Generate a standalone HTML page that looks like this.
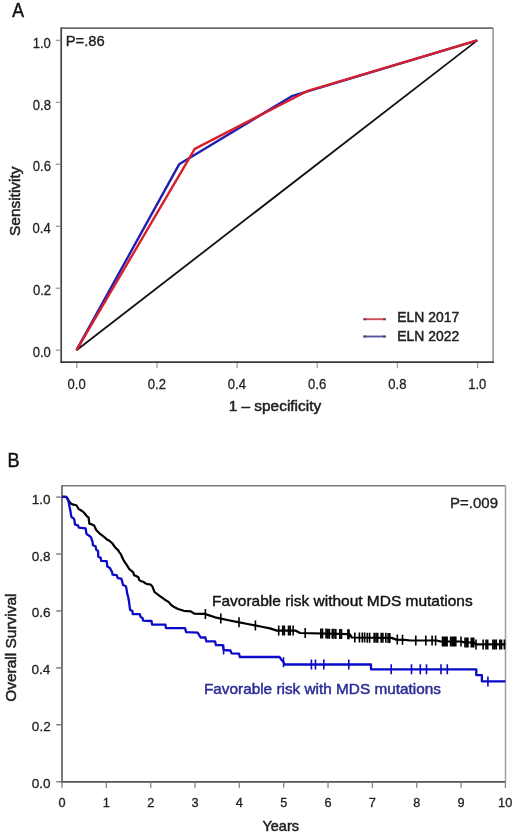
<!DOCTYPE html>
<html><head><meta charset="utf-8"><style>
html,body{margin:0;padding:0;background:#fff;}
svg{display:block;will-change:transform;}
text{font-family:"Liberation Sans",sans-serif;}
</style></head><body>
<svg width="520" height="835" viewBox="0 0 520 835">
<rect width="520" height="835" fill="#fff"/>
<g>
<text transform="translate(32.73,357.35) scale(0.8400,1)" font-size="15.56" fill="#222" stroke="#222" stroke-width="0.3">0.0</text>
<text transform="translate(67.60,389.25) scale(0.8400,1)" font-size="15.56" fill="#222" stroke="#222" stroke-width="0.3">0.0</text>
<text transform="translate(32.89,295.39) scale(0.8400,1)" font-size="15.56" fill="#222" stroke="#222" stroke-width="0.3">0.2</text>
<text transform="translate(147.84,389.25) scale(0.8400,1)" font-size="15.56" fill="#222" stroke="#222" stroke-width="0.3">0.2</text>
<text transform="translate(32.60,233.43) scale(0.8400,1)" font-size="15.56" fill="#222" stroke="#222" stroke-width="0.3">0.4</text>
<text transform="translate(227.86,389.25) scale(0.8400,1)" font-size="15.56" fill="#222" stroke="#222" stroke-width="0.3">0.4</text>
<text transform="translate(32.79,171.47) scale(0.8400,1)" font-size="15.56" fill="#222" stroke="#222" stroke-width="0.3">0.6</text>
<text transform="translate(308.11,389.25) scale(0.8400,1)" font-size="15.56" fill="#222" stroke="#222" stroke-width="0.3">0.6</text>
<text transform="translate(32.79,109.51) scale(0.8400,1)" font-size="15.56" fill="#222" stroke="#222" stroke-width="0.3">0.8</text>
<text transform="translate(388.27,389.25) scale(0.8400,1)" font-size="15.56" fill="#222" stroke="#222" stroke-width="0.3">0.8</text>
<text transform="translate(32.73,47.55) scale(0.8400,1)" font-size="15.56" fill="#222" stroke="#222" stroke-width="0.3">1.0</text>
<text transform="translate(468.17,389.25) scale(0.8400,1)" font-size="15.56" fill="#222" stroke="#222" stroke-width="0.3">1.0</text>
<line x1="61.2" y1="28.1" x2="493.1" y2="28.1" stroke="#6c6c6c" stroke-width="1.6"/>
<line x1="493.1" y1="28.1" x2="493.1" y2="362.1" stroke="#9a9a9a" stroke-width="1.6"/>
<line x1="61.2" y1="27.3" x2="61.2" y2="362.9" stroke="#444" stroke-width="1.7"/>
<line x1="60.4" y1="362.1" x2="493.9" y2="362.1" stroke="#3a3a3a" stroke-width="1.7"/>
<line x1="55.8" y1="350.20" x2="60.5" y2="350.20" stroke="#a0a0a0" stroke-width="1.4"/>
<line x1="76.80" y1="363" x2="76.80" y2="368.3" stroke="#a8a8a8" stroke-width="1.4"/>
<line x1="55.8" y1="288.24" x2="60.5" y2="288.24" stroke="#a0a0a0" stroke-width="1.4"/>
<line x1="156.96" y1="363" x2="156.96" y2="368.3" stroke="#a8a8a8" stroke-width="1.4"/>
<line x1="55.8" y1="226.28" x2="60.5" y2="226.28" stroke="#a0a0a0" stroke-width="1.4"/>
<line x1="237.12" y1="363" x2="237.12" y2="368.3" stroke="#a8a8a8" stroke-width="1.4"/>
<line x1="55.8" y1="164.32" x2="60.5" y2="164.32" stroke="#a0a0a0" stroke-width="1.4"/>
<line x1="317.28" y1="363" x2="317.28" y2="368.3" stroke="#a8a8a8" stroke-width="1.4"/>
<line x1="55.8" y1="102.36" x2="60.5" y2="102.36" stroke="#a0a0a0" stroke-width="1.4"/>
<line x1="397.44" y1="363" x2="397.44" y2="368.3" stroke="#a8a8a8" stroke-width="1.4"/>
<line x1="55.8" y1="40.40" x2="60.5" y2="40.40" stroke="#a0a0a0" stroke-width="1.4"/>
<line x1="477.60" y1="363" x2="477.60" y2="368.3" stroke="#a8a8a8" stroke-width="1.4"/>
<line x1="76.50" y1="350.20" x2="477.30" y2="40.40" stroke="#111" stroke-width="1.8"/>
<polyline points="76.50,350.20 179.10,164.32 291.73,96.16 477.30,40.40" fill="none" stroke="#1e1eb4" stroke-width="2.4" stroke-linejoin="round"/>
<polyline points="76.50,350.20 194.74,148.83 306.96,91.21 477.30,40.40" fill="none" stroke="#d8202a" stroke-width="2.4" stroke-linejoin="round"/>
<line x1="363.5" y1="319.2" x2="385.8" y2="319.2" stroke="#d44a55" stroke-width="1.9"/>
<line x1="363.5" y1="336.5" x2="385.8" y2="336.5" stroke="#5555a8" stroke-width="1.9"/>
<path d="M363.3 319.2h3M383 319.2h2.8M363.3 336.5h3M383 336.5h2.8" stroke="#553a44" stroke-width="1.9" opacity="0.8"/>
<text transform="translate(12.26,16.80) scale(0.9061,1)" font-size="19.49" fill="#111" stroke="#111" stroke-width="0.5">A</text>
<text transform="translate(65.78,46.30) scale(1.0041,1)" font-size="14.69" fill="#222" stroke="#222" stroke-width="0.35">P=.86</text>
<text transform="translate(397.35,322.20) scale(0.9755,1)" font-size="14.25" fill="#222" stroke="#222" stroke-width="0.5">ELN 2017</text>
<text transform="translate(397.35,341.40) scale(0.9755,1)" font-size="14.25" fill="#222" stroke="#222" stroke-width="0.5">ELN 2022</text>
<text transform="translate(228.64,410.80) scale(1.0346,1)" font-size="14.91" fill="#222" stroke="#222" stroke-width="0.5">1 – specificity</text>
<text transform="translate(19.60,235.99) rotate(-90) scale(1.0409,1)" font-size="14.84" fill="#222" stroke="#222" stroke-width="0.5">Sensitivity</text>
<text transform="translate(31.68,788.25) scale(1.0000,1)" font-size="13.55" fill="#222" stroke="#222" stroke-width="0.3">0.0</text>
<text transform="translate(31.85,731.33) scale(1.0000,1)" font-size="13.55" fill="#222" stroke="#222" stroke-width="0.3">0.2</text>
<text transform="translate(31.54,674.41) scale(1.0000,1)" font-size="13.55" fill="#222" stroke="#222" stroke-width="0.3">0.4</text>
<text transform="translate(31.74,617.49) scale(1.0000,1)" font-size="13.55" fill="#222" stroke="#222" stroke-width="0.3">0.6</text>
<text transform="translate(31.74,560.57) scale(1.0000,1)" font-size="13.55" fill="#222" stroke="#222" stroke-width="0.3">0.8</text>
<text transform="translate(31.68,503.65) scale(1.0000,1)" font-size="13.55" fill="#222" stroke="#222" stroke-width="0.3">1.0</text>
<text transform="translate(58.45,806.68) scale(1.0000,1)" font-size="12.73" fill="#222" stroke="#222" stroke-width="0.3">0</text>
<text transform="translate(102.63,806.68) scale(1.0000,1)" font-size="12.73" fill="#222" stroke="#222" stroke-width="0.3">1</text>
<text transform="translate(147.15,806.68) scale(1.0000,1)" font-size="12.73" fill="#222" stroke="#222" stroke-width="0.3">2</text>
<text transform="translate(191.52,806.68) scale(1.0000,1)" font-size="12.73" fill="#222" stroke="#222" stroke-width="0.3">3</text>
<text transform="translate(235.86,806.68) scale(1.0000,1)" font-size="12.73" fill="#222" stroke="#222" stroke-width="0.3">4</text>
<text transform="translate(280.17,806.68) scale(1.0000,1)" font-size="12.73" fill="#222" stroke="#222" stroke-width="0.3">5</text>
<text transform="translate(324.46,806.68) scale(1.0000,1)" font-size="12.73" fill="#222" stroke="#222" stroke-width="0.3">6</text>
<text transform="translate(368.83,806.68) scale(1.0000,1)" font-size="12.73" fill="#222" stroke="#222" stroke-width="0.3">7</text>
<text transform="translate(413.19,806.68) scale(1.0000,1)" font-size="12.73" fill="#222" stroke="#222" stroke-width="0.3">8</text>
<text transform="translate(457.51,806.68) scale(1.0000,1)" font-size="12.73" fill="#222" stroke="#222" stroke-width="0.3">9</text>
<text transform="translate(498.10,806.68) scale(1.0000,1)" font-size="12.73" fill="#222" stroke="#222" stroke-width="0.3">10</text>
<line x1="62" y1="485.8" x2="505.5" y2="485.8" stroke="#7a7a7a" stroke-width="1.5"/>
<line x1="505.5" y1="485.8" x2="505.5" y2="782" stroke="#a0a0a0" stroke-width="1.5"/>
<line x1="62" y1="485" x2="62" y2="782.7" stroke="#6a6a6a" stroke-width="1.8"/>
<line x1="61.2" y1="781.9" x2="505.5" y2="781.9" stroke="#555" stroke-width="1.8"/>
<line x1="56.2" y1="781.70" x2="61.5" y2="781.70" stroke="#7a7a7a" stroke-width="1.4"/>
<line x1="56.2" y1="724.78" x2="61.5" y2="724.78" stroke="#7a7a7a" stroke-width="1.4"/>
<line x1="56.2" y1="667.86" x2="61.5" y2="667.86" stroke="#7a7a7a" stroke-width="1.4"/>
<line x1="56.2" y1="610.94" x2="61.5" y2="610.94" stroke="#7a7a7a" stroke-width="1.4"/>
<line x1="56.2" y1="554.02" x2="61.5" y2="554.02" stroke="#7a7a7a" stroke-width="1.4"/>
<line x1="56.2" y1="497.10" x2="61.5" y2="497.10" stroke="#7a7a7a" stroke-width="1.4"/>
<line x1="62.00" y1="782.5" x2="62.00" y2="787.8" stroke="#8a8a8a" stroke-width="1.4"/>
<line x1="106.34" y1="782.5" x2="106.34" y2="787.8" stroke="#8a8a8a" stroke-width="1.4"/>
<line x1="150.68" y1="782.5" x2="150.68" y2="787.8" stroke="#8a8a8a" stroke-width="1.4"/>
<line x1="195.02" y1="782.5" x2="195.02" y2="787.8" stroke="#8a8a8a" stroke-width="1.4"/>
<line x1="239.36" y1="782.5" x2="239.36" y2="787.8" stroke="#8a8a8a" stroke-width="1.4"/>
<line x1="283.70" y1="782.5" x2="283.70" y2="787.8" stroke="#8a8a8a" stroke-width="1.4"/>
<line x1="328.04" y1="782.5" x2="328.04" y2="787.8" stroke="#8a8a8a" stroke-width="1.4"/>
<line x1="372.38" y1="782.5" x2="372.38" y2="787.8" stroke="#8a8a8a" stroke-width="1.4"/>
<line x1="416.72" y1="782.5" x2="416.72" y2="787.8" stroke="#8a8a8a" stroke-width="1.4"/>
<line x1="461.06" y1="782.5" x2="461.06" y2="787.8" stroke="#8a8a8a" stroke-width="1.4"/>
<line x1="505.40" y1="782.5" x2="505.40" y2="787.8" stroke="#8a8a8a" stroke-width="1.4"/>
<text transform="translate(7.61,467.00) scale(0.9047,1)" font-size="19.93" fill="#111" stroke="#111" stroke-width="0.5">B</text>
<text transform="translate(450.06,508.30) scale(1.0108,1)" font-size="14.84" fill="#222" stroke="#222" stroke-width="0.35">P=.009</text>
<text transform="translate(262.47,831.40) scale(1.0275,1)" font-size="14.11" fill="#222" stroke="#222" stroke-width="0.5">Years</text>
<text transform="translate(15.80,701.73) rotate(-90) scale(1.0222,1)" font-size="15.13" fill="#222" stroke="#222" stroke-width="0.5">Overall Survival</text>
<text transform="translate(212.02,605.80) scale(1.0648,1)" font-size="14.55" fill="#111" stroke="#111" stroke-width="0.4">Favorable risk without MDS mutations</text>
<text transform="translate(203.93,693.50) scale(1.0877,1)" font-size="14.11" fill="#2b2b98" stroke="#2b2b98" stroke-width="0.45">Favorable risk with MDS mutations</text>
<polyline points="62.2,496.8 66.0,496.8 68.0,499.5 70.5,503.2 72.4,504.4 76.4,505.3 77.6,507.3 78.7,509.0 81.6,510.7 83.9,512.5 85.7,514.8 87.4,516.8 88.6,517.5 89.3,523.6 91.8,524.4 94.1,525.5 95.5,528.4 96.4,530.2 98.7,532.5 100.4,534.2 102.7,535.9 105.0,537.7 106.8,539.4 109.1,540.5 111.4,542.5 112.6,543.6 114.0,545.8 115.8,548.1 118.1,550.1 119.2,552.1 121.0,554.4 122.1,557.3 123.3,559.6 125.0,562.5 126.7,564.8 128.2,567.4 129.7,569.5 131.5,570.9 133.2,572.3 134.1,575.2 136.1,576.1 138.4,577.3 139.3,580.1 141.3,581.3 143.6,581.9 145.3,583.3 147.6,584.2 150.5,584.5 152.2,586.2 153.4,589.1 154.5,592.0 156.3,593.4 159.6,595.8 164.2,599.2 168.8,602.1 171.2,605.0 174.6,607.3 178.1,609.0 183.8,610.8 190.8,611.3 194.2,613.6 204.4,613.8 209.2,615.4 215.0,617.3 219.8,618.3 228.5,620.2 238.0,622.1 247.7,624.0 263.0,627.0 270.0,628.4 276.9,630.6 295.4,630.6 300.0,633.0 349.6,634.2 351.9,637.5 391.5,637.9 396.2,639.6 405.4,639.8 410.0,640.5 436.7,640.5 440.2,641.4 461.5,641.5 464.4,642.5 474.2,642.5 476.0,644.4 505.5,644.4" fill="none" stroke="#000" stroke-width="2.2" stroke-linejoin="round"/>
<polyline points="62.2,496.8 66.3,496.8 67.8,499.2 68.9,503.2 69.5,506.7 70.4,510.7 71.0,514.8 71.5,517.0 73.5,518.2 74.4,520.0 75.0,524.6 78.0,525.4 78.8,527.7 85.6,528.3 86.4,533.5 87.2,534.6 89.5,535.9 91.2,537.7 92.0,540.5 92.6,542.0 92.9,545.2 95.5,546.3 96.3,549.8 98.1,551.0 98.3,556.7 100.7,557.9 101.2,560.8 106.7,561.1 107.3,566.5 109.9,567.9 110.3,568.9 112.0,571.8 112.6,574.7 116.7,575.2 117.8,578.1 121.3,578.7 122.4,582.2 123.0,585.0 125.9,586.2 126.5,589.1 127.0,592.0 127.2,593.7 128.1,596.6 128.9,600.7 129.5,605.3 130.1,609.9 132.4,611.0 132.7,614.2 139.9,614.2 140.5,616.8 142.5,618.0 143.1,620.6 151.5,621.0 152.1,624.6 165.4,624.6 166.0,628.1 185.0,628.1 186.2,632.1 197.7,632.7 200.6,637.5 205.4,637.5 206.3,641.3 215.0,641.3 216.0,645.2 222.7,645.2 223.7,650.0 230.4,650.5 231.6,653.4 239.0,653.6 239.8,657.0 279.5,657.0 281.0,659.2 283.0,661.5 284.8,664.5 371.0,664.5 371.0,669.3 476.3,669.3 476.3,675.2 481.9,675.2 481.9,681.4 505.5,681.4" fill="none" stroke="#0a0ac8" stroke-width="2.3" stroke-linejoin="round"/>
<path d="M205.4 609.1v10M220.8 613.5v10M239.0 617.3v10M255.4 620.5v10M278.7 625.6v10M282.7 625.6v10M284.4 625.6v10M288.5 625.6v10M290.2 625.6v10M293.1 625.6v10M305.2 628.1v10M320.8 628.5v10M322.5 628.5v10M326.0 628.6v10M327.7 628.7v10M329.4 628.7v10M332.3 628.8v10M334.0 628.8v10M335.8 628.9v10M339.8 629.0v10M341.5 629.0v10M347.9 629.2v10M349.0 629.2v10M354.8 632.5v10M359.4 632.6v10M362.3 632.6v10M364.6 632.6v10M367.3 632.7v10M369.6 632.7v10M374.2 632.7v10M376.0 632.7v10M377.7 632.8v10M381.2 632.8v10M382.9 632.8v10M385.8 632.8v10M388.1 632.9v10M389.8 632.9v10M397.3 634.6v10M402.5 634.7v10M415.8 635.5v10M425.8 635.5v10M432.1 635.5v10M435.6 635.5v10M442.5 636.4v10M443.7 636.4v10M444.8 636.4v10M446.0 636.4v10M447.1 636.4v10M450.6 636.4v10M452.3 636.5v10M453.5 636.5v10M454.6 636.5v10M455.8 636.5v10M461.0 636.5v10M465.0 637.5v10M466.7 637.5v10M467.9 637.5v10M471.3 637.5v10M472.5 637.5v10M473.7 637.5v10M476.0 639.4v10M483.1 639.4v10M486.0 639.4v10M487.7 639.4v10M492.9 639.4v10M494.6 639.4v10M496.3 639.4v10M499.8 639.4v10M501.5 639.4v10M504.4 639.4v10" stroke="#000" stroke-width="1.6" fill="none"/>
<path d="M223.6 644.5v10M283.5 657.3v10M311.4 659.5v10M315.5 659.5v10M323.8 659.5v10M348.8 659.5v10M391.2 664.3v10M411.5 664.3v10M420.3 664.3v10M426.5 664.3v10M441.0 664.3v10M447.3 664.3v10M487.9 676.4v10" stroke="#0a0ac8" stroke-width="1.6" fill="none"/>
</g>
</svg>
</body></html>
